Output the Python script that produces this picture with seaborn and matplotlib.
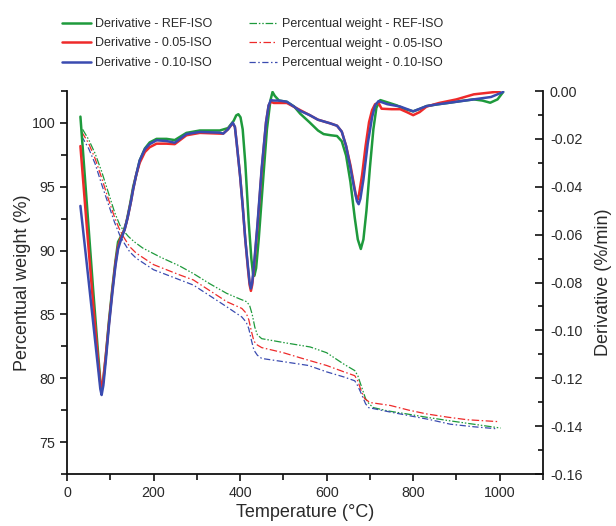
import numpy as np
import pandas as pd
import matplotlib
matplotlib.use("Agg")
import matplotlib.pyplot as plt
from matplotlib.ticker import MultipleLocator, FormatStrFormatter
import seaborn as sns

# ---- Derivative curves (%/min), right axis ----
deriv_ref_T = [31, 45, 60, 72, 77, 80, 84, 90, 97, 105, 112, 118, 124, 130, 137, 145, 153, 160,
               168, 180, 191, 207, 230, 249, 276, 307, 353, 372, 385, 391, 396, 401, 406, 412,
               420, 426, 430, 433, 437, 443, 452, 462, 470, 475, 480, 490, 508, 525, 539, 560,
               580, 593, 610, 624, 635, 645, 655, 665, 672, 679, 685, 692, 700, 708, 715, 724,
               745, 762, 780, 800, 815, 831, 855, 880, 910, 940, 960, 978, 995, 1008]
deriv_ref = [-0.0107, -0.045, -0.082, -0.110, -0.121, -0.125, -0.121, -0.110, -0.096, -0.082,
             -0.071, -0.063, -0.061, -0.059, -0.055, -0.048, -0.040, -0.035, -0.029, -0.0240,
             -0.0215, -0.0200, -0.0200, -0.0205, -0.0175, -0.0165, -0.0165, -0.0155, -0.0125,
             -0.0102, -0.0097, -0.011, -0.016, -0.030, -0.055, -0.070, -0.0765, -0.0772, -0.074,
             -0.062, -0.040, -0.016, -0.004, -0.0004, -0.002, -0.004, -0.0045, -0.0065, -0.0095,
             -0.013, -0.0165, -0.018, -0.0185, -0.0188, -0.021, -0.027, -0.038, -0.053, -0.062,
             -0.066, -0.062, -0.050, -0.032, -0.016, -0.007, -0.0038, -0.0050, -0.0060, -0.0075,
             -0.0085, -0.0075, -0.0063, -0.0056, -0.0050, -0.0042, -0.0035, -0.0040, -0.0049,
             -0.0035, -0.0004]

deriv_05_T = [31, 45, 60, 72, 77, 80, 84, 90, 97, 105, 112, 118, 125, 133, 140, 148, 153, 160,
              168, 180, 191, 207, 230, 249, 276, 307, 353, 361, 372, 383, 388, 392, 400, 406,
              412, 418, 422, 425, 428, 432, 440, 450, 460, 466, 471, 478, 490, 508, 539, 560,
              580, 608, 624, 635, 645, 655, 663, 668, 671, 675, 682, 690, 698, 705, 712, 720,
              727, 750, 770, 785, 800, 815, 831, 860, 900, 940, 970, 1000]
deriv_05 = [-0.023, -0.055, -0.088, -0.113, -0.122, -0.1242, -0.120, -0.110, -0.097, -0.083,
            -0.072, -0.065, -0.061, -0.058, -0.053, -0.046, -0.041, -0.035, -0.030, -0.0255,
            -0.0235, -0.0220, -0.0220, -0.0222, -0.0185, -0.0175, -0.0178, -0.0178, -0.016,
            -0.0135, -0.015, -0.0215, -0.0355, -0.048, -0.062, -0.074, -0.081, -0.0835, -0.081,
            -0.074, -0.057, -0.033, -0.013, -0.006, -0.0045, -0.0050, -0.0050, -0.0050, -0.0080,
            -0.0100, -0.0120, -0.0135, -0.0145, -0.017, -0.023, -0.031, -0.039, -0.0440,
            -0.0455, -0.043, -0.035, -0.023, -0.013, -0.008, -0.0055, -0.0050, -0.0074, -0.0076,
            -0.0076, -0.0088, -0.0101, -0.0088, -0.0065, -0.0050, -0.0035, -0.0014, -0.0008,
            -0.0002]

deriv_10_T = [31, 45, 60, 72, 77, 80, 84, 90, 97, 105, 112, 118, 125, 133, 140, 148, 153, 160,
              168, 180, 191, 207, 230, 249, 276, 307, 353, 361, 372, 383, 388, 392, 400, 406,
              412, 418, 422, 425, 428, 432, 440, 450, 460, 466, 471, 478, 490, 508, 539, 560,
              580, 608, 624, 635, 645, 655, 663, 670, 674, 678, 685, 695, 705, 712, 720, 740,
              770, 800, 831, 855, 900, 940, 980, 1008]
deriv_10 = [-0.048, -0.071, -0.096, -0.116, -0.1245, -0.127, -0.123, -0.112, -0.098, -0.084,
            -0.073, -0.066, -0.062, -0.058, -0.053, -0.046, -0.041, -0.035, -0.029, -0.0243,
            -0.0222, -0.0206, -0.0209, -0.0216, -0.0180, -0.0171, -0.0174, -0.0178, -0.016,
            -0.0132, -0.015, -0.0215, -0.0355, -0.048, -0.062, -0.073, -0.080, -0.0825, -0.080,
            -0.073, -0.056, -0.032, -0.013, -0.006, -0.0038, -0.0040, -0.0040, -0.0045, -0.0083,
            -0.0100, -0.0120, -0.0135, -0.0145, -0.017, -0.023, -0.032, -0.040, -0.046, -0.0473,
            -0.045, -0.037, -0.022, -0.011, -0.006, -0.0042, -0.0055, -0.0065, -0.0085, -0.0063,
            -0.0056, -0.0045, -0.0035, -0.0025, -0.0004]

# ---- Percentual weight curves (%), left axis ----
weight_ref_T = [36, 50, 65, 80, 95, 110, 122, 132, 142, 155, 175, 215, 260, 292, 330, 369, 400,
                415, 422, 428, 434, 440, 450, 500, 562, 600, 640, 665, 672, 681, 690, 698, 708,
                740, 786, 830, 878, 950, 1002]
weight_ref = [99.5, 98.7, 97.6, 96.2, 94.6, 93.0, 92.0, 91.5, 91.1, 90.7, 90.2, 89.5, 88.8, 88.2,
              87.4, 86.65, 86.2, 86.0, 85.7, 85.0, 84.0, 83.4, 83.1, 82.8, 82.45, 82.0, 81.1,
              80.6, 80.2, 79.3, 78.4, 78.0, 77.7, 77.45, 77.2, 76.95, 76.7, 76.35, 76.1]

weight_05_T = [34, 50, 65, 80, 95, 110, 122, 132, 145, 160, 200, 260, 292, 369, 404, 414, 420,
               426, 432, 440, 450, 500, 539, 600, 640, 665, 672, 680, 688, 700, 747, 790, 832,
               880, 925, 998]
weight_05 = [99.3, 98.4, 97.2, 95.7, 94.1, 92.6, 91.6, 91.0, 90.3, 89.8, 88.9, 88.1, 87.7, 86.0,
             85.47, 85.1, 84.6, 83.7, 82.9, 82.6, 82.4, 82.0, 81.6, 81.0, 80.5, 80.2, 79.8, 79.0,
             78.4, 78.1, 77.87, 77.5, 77.2, 76.95, 76.75, 76.6]

weight_10_T = [34, 50, 65, 80, 95, 110, 122, 132, 145, 160, 200, 292, 369, 404, 414, 420, 426,
               432, 440, 450, 500, 558, 600, 640, 665, 672, 680, 690, 697, 740, 786, 840, 886,
               940, 994]
weight_10 = [98.95, 98.0, 96.8, 95.2, 93.7, 92.2, 91.2, 90.6, 89.9, 89.4, 88.5, 87.3, 85.6, 84.8,
             84.4, 83.9, 83.0, 82.2, 81.8, 81.55, 81.3, 81.0, 80.5, 80.1, 79.8, 79.4, 78.8, 78.0,
             77.7, 77.4, 77.1, 76.75, 76.4, 76.2, 76.04]

samples = ["REF-ISO", "0.05-ISO", "0.10-ISO"]
colors = ["#1e9a3c", "#ee2a2a", "#3a4bb0"]
weight_dashes = [(6, 1.5, 1.2, 1.5, 1.2, 1.5), (6, 2, 1.2, 2), (5, 2, 1.2, 2)]

sns.set_style("ticks")
plt.rcParams["font.family"] = ["Liberation Sans", "DejaVu Sans"]
text_color = "#2a2a2a"

fig = plt.figure(figsize=(6.16, 5.26), dpi=100)
ax = fig.add_axes([67 / 616, 1 - 474 / 526, (543 - 67) / 616, (474 - 91) / 526])
ax2 = ax.twinx()

weights = [(weight_ref_T, weight_ref), (weight_05_T, weight_05), (weight_10_T, weight_10)]
derivs = [(deriv_ref_T, deriv_ref), (deriv_05_T, deriv_05), (deriv_10_T, deriv_10)]

weight_lines = []
for (t, w), c, d in zip(weights, colors, weight_dashes):
    df = pd.DataFrame({"T": t, "w": w})
    sns.lineplot(data=df, x="T", y="w", ax=ax, color=c, linewidth=0.9, sort=False,
                 estimator=None, legend=False)
    ln = ax.lines[-1]
    ln.set_linestyle((0, d))
    weight_lines.append(ln)

deriv_lines = []
for (t, v), c in zip(derivs, colors):
    df = pd.DataFrame({"T": t, "d": v})
    sns.lineplot(data=df, x="T", y="d", ax=ax2, color=c, linewidth=1.8, sort=False,
                 estimator=None, legend=False)
    ln = ax2.lines[-1]
    ln.set_solid_joinstyle("round")
    deriv_lines.append(ln)

# axes limits and ticks
ax.set_xlim(0, 1100)
ax.set_ylim(72.5, 102.5)
ax2.set_ylim(-0.16, 0.0)
ax.xaxis.set_major_locator(MultipleLocator(200))
ax.xaxis.set_minor_locator(MultipleLocator(100))
ax.yaxis.set_major_locator(MultipleLocator(5))
ax.yaxis.set_minor_locator(MultipleLocator(2.5))
ax2.yaxis.set_major_locator(MultipleLocator(0.02))
ax2.yaxis.set_minor_locator(MultipleLocator(0.01))
ax2.yaxis.set_major_formatter(FormatStrFormatter("%.2f"))

for a in (ax, ax2):
    a.spines["top"].set_visible(False)
    for s in a.spines.values():
        s.set_linewidth(1.3)
        s.set_color("#111111")
ax.spines["right"].set_visible(False)
ax2.spines["left"].set_visible(False)
ax2.spines["bottom"].set_visible(False)

ax.tick_params(axis="both", which="major", direction="out", length=5, width=1.2,
               labelsize=10.3, labelcolor=text_color, color="#111111")
ax.tick_params(axis="both", which="minor", direction="out", length=4, width=1.2,
               color="#111111")
ax2.tick_params(axis="y", which="major", direction="in", length=6, width=1.2,
                labelsize=10.3, labelcolor=text_color, color="#111111", pad=5)
ax2.tick_params(axis="y", which="minor", direction="in", length=3.5, width=1.2,
                color="#111111")

ax.set_xlabel("Temperature (°C)", fontsize=13, color=text_color, labelpad=3)
ax.set_ylabel("Percentual weight (%)", fontsize=13, color=text_color, labelpad=0)
ax2.set_ylabel("Derivative (%/min)", fontsize=13, color=text_color, labelpad=9)

handles = deriv_lines + weight_lines
labels = [f"Derivative - {s}" for s in samples] + [f"Percentual weight - {s}" for s in samples]
fig.legend(handles, labels, ncol=2, loc="upper left", bbox_to_anchor=(62 / 616, 1 - 18 / 526),
           frameon=False, fontsize=9.0, handlelength=2.3, handletextpad=0.35,
           columnspacing=2.9, labelspacing=0.6, borderpad=0, borderaxespad=0,
           labelcolor=text_color)

fig.savefig("out.png", dpi=100)
